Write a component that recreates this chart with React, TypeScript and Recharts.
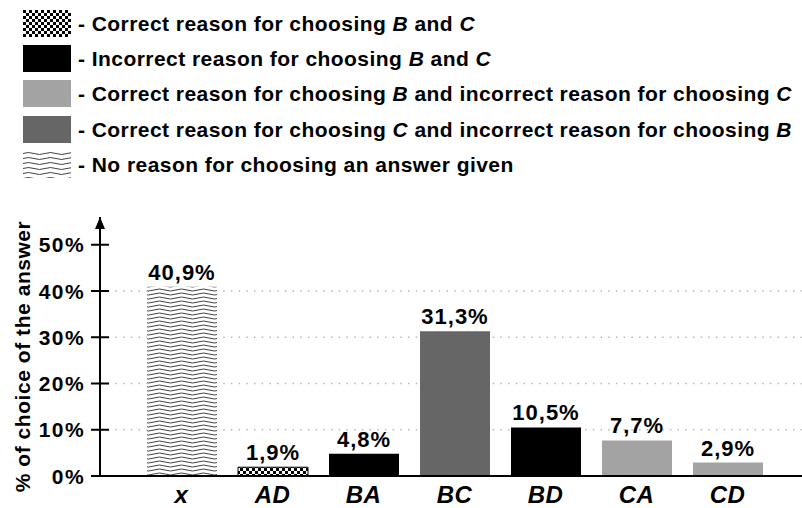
import { BarChart, Bar, XAxis, YAxis, CartesianGrid, Cell, LabelList, Label } from "recharts";

const categories = ["x", "AD", "BA", "BC", "BD", "CA", "CD"];
const shares = [40.9, 1.9, 4.8, 31.3, 10.5, 7.7, 2.9];
const reasonKinds = ["none", "bothCorrect", "bothIncorrect", "cCorrect", "bothIncorrect", "bCorrect", "bCorrect"];
const yTicks = [0, 10, 20, 30, 40, 50];
const gridValues = [10, 20, 30, 40];
const AXIS_TOP = 56;

const legendKinds = ["bothCorrect", "bothIncorrect", "bCorrect", "cCorrect", "none"];
const legendTexts = [
  "- Correct reason for choosing *B* and *C*",
  "- Incorrect reason for choosing *B* and *C*",
  "- Correct reason for choosing *B* and incorrect reason for choosing *C*",
  "- Correct reason for choosing *C* and incorrect reason for choosing *B*",
  "- No reason for choosing an answer given",
];

const FONT = "'Liberation Sans', Arial, Helvetica, sans-serif";

const fillFor = (kind: string, prefix: string) => {
  if (kind === "none") return `url(#${prefix}-wave)`;
  if (kind === "bothCorrect") return `url(#${prefix}-checker)`;
  if (kind === "bothIncorrect") return "#000000";
  if (kind === "bCorrect") return "#a3a3a3";
  return "#666666";
};

const fmt = (v: number) => v.toFixed(1).replace(".", ",") + "%";

const rows = categories.map((cat, i) => ({ cat, share: shares[i], kind: reasonKinds[i] }));

function PatternDefs({ prefix, waveGap }: { prefix: string; waveGap: number }) {
  const mid = waveGap / 2;
  return (
    <defs>
      <pattern id={`${prefix}-wave`} width={22} height={waveGap} patternUnits="userSpaceOnUse">
        <rect width={22} height={waveGap} fill="#ffffff" />
        <path
          d={`M0 ${mid} Q5.5 ${mid - 2} 11 ${mid} T22 ${mid}`}
          fill="none"
          stroke="#2a2a2a"
          strokeWidth={0.9}
        />
      </pattern>
      <pattern id={`${prefix}-checker`} width={6} height={6} patternUnits="userSpaceOnUse">
        <rect width={6} height={6} fill="#ffffff" />
        <rect x={0} y={0} width={3} height={3} fill="#000000" />
        <rect x={3} y={3} width={3} height={3} fill="#000000" />
      </pattern>
    </defs>
  );
}

function LegendText({ text }: { text: string }) {
  const parts = text.split("*");
  return (
    <>
      {parts.map((p, i) =>
        i % 2 === 1 ? (
          <span key={i} style={{ fontStyle: "italic" }}>{p}</span>
        ) : (
          <span key={i}>{p}</span>
        )
      )}
    </>
  );
}

function YTick(props: any) {
  const { x, y, payload } = props;
  if (payload.value === AXIS_TOP) {
    return <polygon points={`${x},${y} ${x - 5},${y + 12} ${x + 5},${y + 12}`} fill="#000" />;
  }
  return (
    <g>
      <line x1={x - 9} x2={x + 9} y1={y} y2={y} stroke="#000" strokeWidth={2} />
      <text x={x - 15} y={y} dy={7.5} textAnchor="end" fontFamily={FONT} fontWeight="bold" fontSize={21} letterSpacing={1.4} fill="#000">
        {payload.value}%
      </text>
    </g>
  );
}

function XTick(props: any) {
  const { x, y, payload } = props;
  return (
    <text x={x} y={y + 27} textAnchor="middle" fontFamily={FONT} fontWeight="bold" fontStyle="italic" fontSize={24} letterSpacing={0.5} fill="#000">
      {payload.value}
    </text>
  );
}

function YLabel(props: any) {
  const vb = props.viewBox;
  const cx = vb.x + 22;
  const cy = vb.y + vb.height / 2 + 10;
  return (
    <text
      x={cx}
      y={cy}
      transform={`rotate(-90 ${cx} ${cy})`}
      textAnchor="middle"
      dominantBaseline="central"
      fontFamily={FONT}
      fontWeight="bold"
      fontSize={21}
      letterSpacing={0.55}
      fill="#000"
    >
      % of choice of the answer
    </text>
  );
}

export default function App() {
  return (
    <div style={{ position: "absolute", left: 0, top: 0, width: 802, height: 508, background: "#fff" }}>
      <BarChart
        width={802}
        height={508}
        data={rows}
        margin={{ top: 217, right: 0, bottom: 0, left: 0 }}
        barSize={70}
      >
        <PatternDefs prefix="bar" waveGap={4} />
        <CartesianGrid
          vertical={false}
          horizontalValues={gridValues}
          stroke="#b8b8b8"
          strokeWidth={1.5}
          strokeDasharray="1.5 6.2"
        />
        <XAxis
          dataKey="cat"
          interval={0}
          height={32}
          padding={{ left: 36, right: 29 }}
          axisLine={{ stroke: "#000", strokeWidth: 2 }}
          tickLine={false}
          tickSize={0}
          tickMargin={0}
          tick={<XTick />}
        />
        <YAxis
          type="number"
          width={100}
          domain={[0, AXIS_TOP]}
          ticks={[...yTicks, AXIS_TOP]}
          interval={0}
          allowDataOverflow
          axisLine={{ stroke: "#000", strokeWidth: 2 }}
          tickLine={false}
          tickSize={0}
          tickMargin={0}
          tick={<YTick />}
        >
          <Label content={<YLabel />} />
        </YAxis>
        <Bar dataKey="share" isAnimationActive={false}>
          {rows.map((r, i) => (
            <Cell
              key={i}
              fill={fillFor(r.kind, "bar")}
              stroke={r.kind === "bothCorrect" ? "#000" : "none"}
              strokeWidth={1}
            />
          ))}
          <LabelList
            dataKey="share"
            position="top"
            offset={7}
            formatter={(v: any) => fmt(Number(v))}
            style={{ fontFamily: FONT, fontWeight: "bold", fontSize: 22, fill: "#000", letterSpacing: 1 }}
          />
        </Bar>
      </BarChart>
      <div style={{ position: "absolute", left: 0, top: 0, fontFamily: FONT }}>
        {legendKinds.map((kind, i) => (
          <div
            key={kind}
            style={{ position: "absolute", left: 23, top: 10 + i * 35.2, height: 27, display: "flex", alignItems: "center", whiteSpace: "nowrap" }}
          >
            <svg width={48} height={27} style={{ display: "block" }}>
              <PatternDefs prefix={`lg${i}`} waveGap={5} />
              <rect width={48} height={27} fill={fillFor(kind, `lg${i}`)} />
            </svg>
            <span style={{ marginLeft: 7, fontSize: 21, fontWeight: "bold", color: "#000", lineHeight: "27px", letterSpacing: 0.45 }}>
              <LegendText text={legendTexts[i]} />
            </span>
          </div>
        ))}
      </div>
    </div>
  );
}
